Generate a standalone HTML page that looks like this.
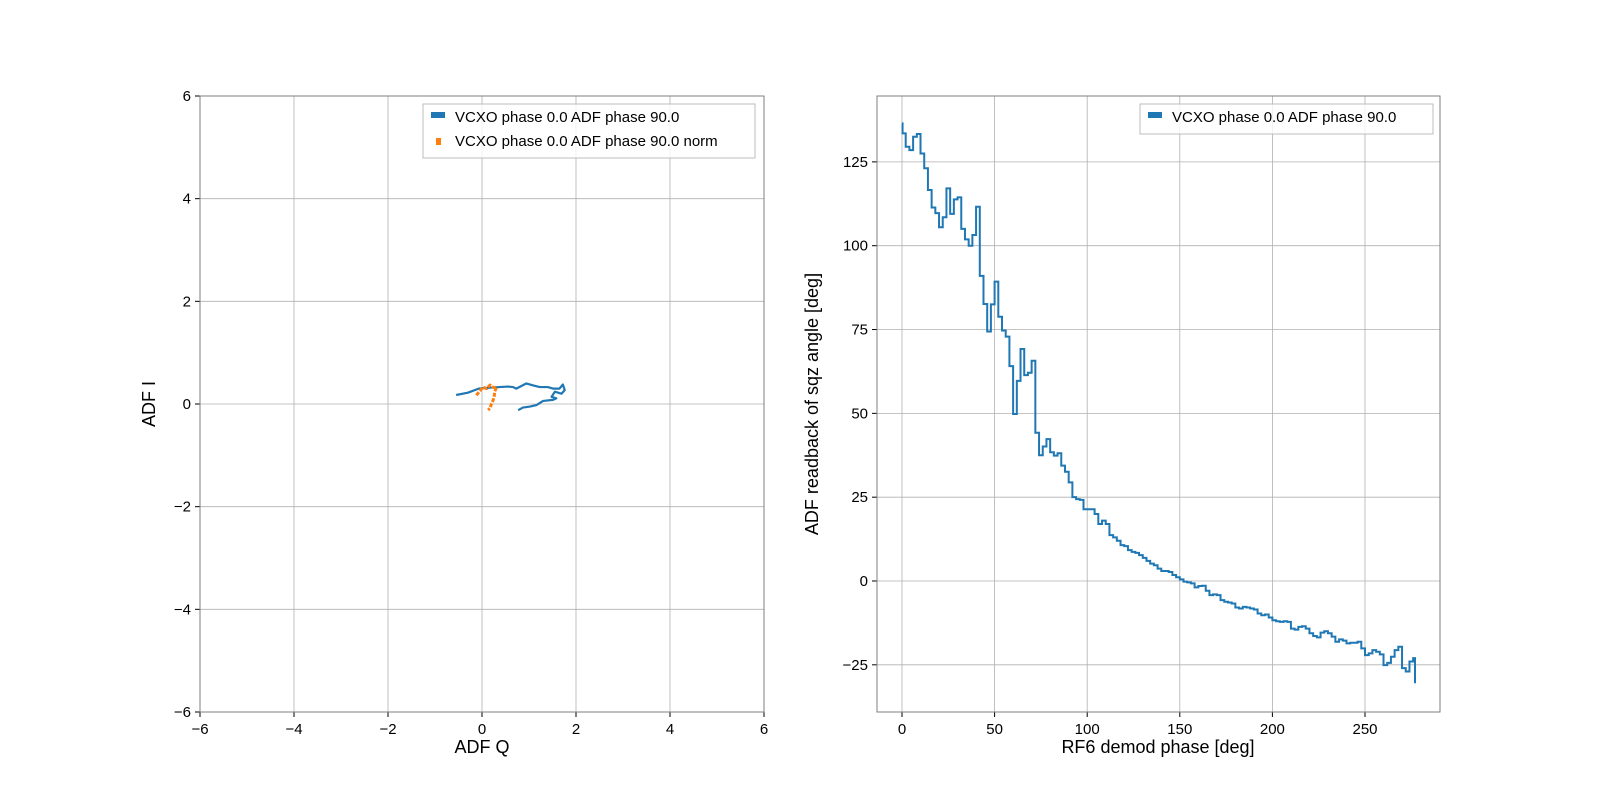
<!DOCTYPE html>
<html><head><meta charset="utf-8"><style>
body{margin:0;background:#fff;}
svg text{font-family:"Liberation Sans",sans-serif;fill:#000;}
</style></head><body>
<svg id="fig" width="1600" height="800" xmlns="http://www.w3.org/2000/svg">
<rect width="1600" height="800" fill="#fff"/>
<g id="left"></g>
<g id="right"></g>
</svg>
<script>
// Left chart data (ADF Q, ADF I)
const leftTicks = [-6,-4,-2,0,2,4,6];
const blueQ = [-0.55,-0.3,-0.07,0.2,0.37,0.55,0.66,0.73,0.94,1.1,1.23,1.4,1.51,1.65,1.72,1.76,1.69,1.55,1.48,1.58,1.51,1.3,1.16,1.02,0.87,0.77];
const blueI = [0.175,0.22,0.30,0.32,0.33,0.34,0.33,0.30,0.40,0.36,0.33,0.33,0.30,0.30,0.38,0.27,0.20,0.24,0.14,0.11,0.08,0.06,-0.02,-0.05,-0.07,-0.12];
const orangeQ = [-0.12,-0.04,0.02,0.10,0.17,0.25,0.31,0.27,0.26,0.24,0.20,0.17,0.13];
const orangeI = [0.17,0.26,0.33,0.30,0.37,0.32,0.33,0.24,0.15,0.08,0.0,-0.08,-0.12];
// Right chart data
const xTicksR = [0,50,100,150,200,250];
const yTicksR = [-25,0,25,50,75,100,125];
const phases = [0,0.3,2,4,6,8,10,12,14,16,18,20,22,24,26,28,30,32,34,36,38,40,42,44,46,48,50,52,54,56,58,60,62,64,66,68,70,72,74,76,78,80,82,84,86,88,90,92,94,96,98,100,102,104,106,108,110,112,114,116,118,120,122,124,126,128,130,132,134,136,138,140,142,144,146,148,150,152,154,156,158,160,162,164,166,168,170,172,174,176,178,180,182,184,186,188,190,192,194,196,198,200,202,204,206,208,210,212,214,216,218,220,222,224,226,228,230,232,234,236,238,240,242,244,246,248,250,252,254,256,258,260,262,264,266,268,270,272,274,276,277];
const angles = [136.5,133.5,129.5,128.5,132.5,133.3,127.5,123.1,116.6,111.4,109.7,105.5,108.5,117.1,109.5,113.8,114.4,105,101.9,100,103.2,111.6,91,82.6,74.4,82.5,89.3,78.8,74.7,72.9,64.1,49.8,59.7,69.2,61.4,62.1,65.7,44.2,37.5,40.1,42.3,38.4,37.4,38.1,34.4,32.6,29.4,25.0,24.4,24.2,21.4,21.4,21.4,20.0,17.0,18.0,17.0,13.7,13.0,12.0,10.7,10.4,9.2,8.7,8.4,7.7,6.9,6.0,5.2,4.7,3.7,3.0,3.0,2.7,1.8,1.1,0.5,-0.2,-0.4,-0.7,-1.9,-1.5,-1.4,-2.9,-4.2,-4.0,-4.2,-5.7,-6.2,-6.4,-6.7,-7.9,-8.2,-7.7,-7.9,-8.2,-8.5,-9.7,-10.2,-10.0,-10.9,-11.7,-12.0,-12.2,-12.0,-12.2,-14.2,-14.5,-13.7,-13.5,-14.2,-15.6,-16.4,-16.8,-15.4,-15.0,-15.6,-16.6,-18.1,-17.4,-17.8,-18.6,-18.4,-18.4,-18.1,-20.1,-22.1,-21.6,-20.6,-21.1,-21.9,-25.1,-24.4,-22.6,-20.6,-19.6,-26,-27,-24,-23,-30.5];

const NS="http://www.w3.org/2000/svg";
function mk(parent,tag,attrs){const e=document.createElementNS(NS,tag);for(const k in attrs)e.setAttribute(k,attrs[k]);parent.appendChild(e);return e;}
function fmt(v){return v<0?"\u2212"+Math.abs(v):String(v);}

// Left axes
const L={x0:200,x1:764,y0:96,y1:712};
const lx=v=>L.x0+(v+6)/12*(L.x1-L.x0);
const ly=v=>L.y1-(v+6)/12*(L.y1-L.y0);
const gl=document.getElementById('left');
leftTicks.forEach(t=>{
 let g=mk(gl,'line',{x1:lx(t),x2:lx(t),y1:L.y0,y2:L.y1,stroke:'#b0b0b0','stroke-width':0.8});
 
 g=mk(gl,'line',{x1:L.x0,x2:L.x1,y1:ly(t),y2:ly(t),stroke:'#b0b0b0','stroke-width':0.8});
 
 mk(gl,'line',{x1:lx(t),x2:lx(t),y1:L.y1,y2:L.y1+5,stroke:'#000'});
 mk(gl,'line',{x1:L.x0-5,x2:L.x0,y1:ly(t),y2:ly(t),stroke:'#000'});
 let tx=mk(gl,'text',{x:lx(t),y:L.y1+22,'text-anchor':'middle','font-size':15});tx.textContent=fmt(t);
 
 tx=mk(gl,'text',{x:L.x0-9,y:ly(t)+5,'text-anchor':'end','font-size':15});tx.textContent=fmt(t);
 
});
let pb=mk(gl,'polyline',{points:blueQ.map((q,i)=>lx(q)+','+ly(blueI[i])).join(' '),fill:'none',stroke:'#1f77b4','stroke-width':2.2,'stroke-linejoin':'round'});

let po=mk(gl,'polyline',{points:orangeQ.map((q,i)=>lx(q)+','+ly(orangeI[i])).join(' '),fill:'none',stroke:'#ff7f0e','stroke-width':3,'stroke-linejoin':'round','stroke-dasharray':'4 1.5'});

mk(gl,'rect',{x:L.x0,y:L.y0,width:L.x1-L.x0,height:L.y1-L.y0,fill:'none',stroke:'#7f7f7f','stroke-width':1});
let lg=mk(gl,'g',{});
mk(lg,'rect',{x:423,y:104,width:332,height:54,fill:'#fff',stroke:'#bdbdbd','fill-opacity':0.8});
mk(lg,'rect',{x:431,y:112,width:14,height:6,fill:'#1f77b4'});
let t1=mk(lg,'text',{x:455,y:122,'font-size':15});t1.textContent='VCXO phase 0.0 ADF phase 90.0';
mk(lg,'rect',{x:436,y:138,width:5,height:7,fill:'#ff7f0e'});
let t2=mk(lg,'text',{x:455,y:146,'font-size':15});t2.textContent='VCXO phase 0.0 ADF phase 90.0 norm';
let xl=mk(gl,'text',{x:482,y:753,'text-anchor':'middle','font-size':18});xl.textContent='ADF Q';

let yl=mk(gl,'text',{x:155,y:404,'text-anchor':'middle','font-size':18,transform:'rotate(-90 155 404)'});yl.textContent='ADF I';


// Right axes
const R={x0:877,x1:1440,y0:96,y1:712};
const rx=v=>902+v*1.852;
const ry=v=>581-v*3.353;
const gr=document.getElementById('right');
xTicksR.forEach(t=>{
 let g=mk(gr,'line',{x1:rx(t),x2:rx(t),y1:R.y0,y2:R.y1,stroke:'#b0b0b0','stroke-width':0.8});
 
 mk(gr,'line',{x1:rx(t),x2:rx(t),y1:R.y1,y2:R.y1+5,stroke:'#000'});
 let tx=mk(gr,'text',{x:rx(t),y:R.y1+22,'text-anchor':'middle','font-size':15});tx.textContent=fmt(t);
 
});
yTicksR.forEach(t=>{
 let g=mk(gr,'line',{x1:R.x0,x2:R.x1,y1:ry(t),y2:ry(t),stroke:'#b0b0b0','stroke-width':0.8});
 
 mk(gr,'line',{x1:R.x0-5,x2:R.x0,y1:ry(t),y2:ry(t),stroke:'#000'});
 let tx=mk(gr,'text',{x:R.x0-9,y:ry(t)+5,'text-anchor':'end','font-size':15});tx.textContent=fmt(t);
 
});
let d='M'+rx(phases[0])+','+ry(angles[0]);
for(let i=1;i<phases.length;i++){d+=' H'+rx(phases[i])+' V'+ry(angles[i]);}
let sp=mk(gr,'path',{d:d,fill:'none',stroke:'#1f77b4','stroke-width':2});

mk(gr,'rect',{x:R.x0,y:R.y0,width:R.x1-R.x0,height:R.y1-R.y0,fill:'none',stroke:'#7f7f7f','stroke-width':1});
let lg2=mk(gr,'g',{});
mk(lg2,'rect',{x:1140,y:104,width:293,height:30,fill:'#fff',stroke:'#bdbdbd','fill-opacity':0.8});
mk(lg2,'rect',{x:1148,y:112,width:14,height:6,fill:'#1f77b4'});
let t3=mk(lg2,'text',{x:1172,y:122,'font-size':15});t3.textContent='VCXO phase 0.0 ADF phase 90.0';
let xl2=mk(gr,'text',{x:1158,y:753,'text-anchor':'middle','font-size':18});xl2.textContent='RF6 demod phase [deg]';

let yl2=mk(gr,'text',{x:818,y:404,'text-anchor':'middle','font-size':18,transform:'rotate(-90 818 404)'});yl2.textContent='ADF readback of sqz angle [deg]';

</script>
</body></html>
